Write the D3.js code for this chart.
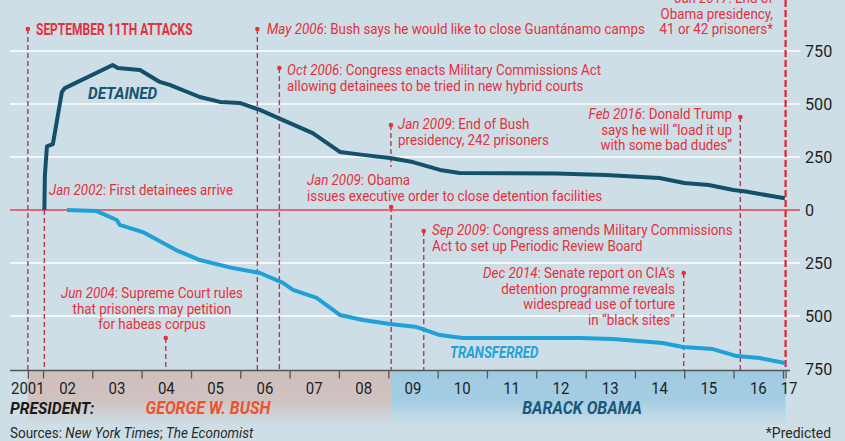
<!DOCTYPE html>
<html>
<head>
<meta charset="utf-8">
<script src="https://cdn.jsdelivr.net/npm/d3@7"></script>
<style>
  body { margin: 0; background: #cedee6; }
  svg { display: block; }
  text { font-family: "Roboto", "Open Sans", sans-serif; }
</style>
</head>
<body>
<div class="chart"></div>
<script>
// prisoners held at Guantánamo
var detainedDates = ['2002-01-11','2002-01-15','2002-01-30','2002-03-15','2002-05-21','2002-06-12',
  '2003-06-01','2003-07-08','2003-12-20','2004-05-15','2004-07-27','2005-03-07','2005-08-03',
  '2005-12-28','2006-05-26','2006-10-23','2007-06-21','2008-01-08','2008-06-27','2009-01-12',
  '2009-07-01','2010-01-18','2010-06-13','2012-06-01','2013-06-01','2014-07-01','2015-01-01',
  '2015-07-01','2016-01-01','2016-04-01','2017-01-15'];
var detainedValues = [0,165,300,311,557,575,
  684,670,660,604,590,533,510,
  505,472,430,363,274,260,245,
  226,189,175,172,165,151,127,
  118,94,87,55];

// prisoners transferred out
var transferredDates = ['2002-06-27','2003-02-03','2003-07-01','2003-07-23','2004-01-10','2004-09-12',
  '2005-03-07','2005-11-06','2006-05-26','2006-11-13','2007-01-26','2007-07-20','2008-01-08',
  '2008-06-27','2009-01-12','2009-07-30','2010-01-18','2010-07-05','2012-11-20','2013-07-20',
  '2014-07-25','2014-12-20','2015-07-31','2016-01-25','2016-07-12','2017-01-15'];
var transferredValues = [0,5,47,70,104,189,
  236,274,297,344,377,415,495,
  519,538,552,590,604,604,608,
  627,646,656,689,698,722];

var yTicks = [0, 250, 500, 750];
var yearTicks = ['2002','2003','2004','2005','2006','2007','2008','2009','2010','2011','2012','2013','2014','2015','2016','2017'];
var yearLabels = ['2001','02','03','04','05','06','07','08','09','10','11','12','13','14','15','16','17'];
var yearLabelDates = ['2001-09-11','2002-07-02','2003-07-02','2004-07-02','2005-07-02','2006-07-02','2007-07-02',
  '2008-07-02','2009-07-02','2010-07-02','2011-07-02','2012-07-02','2013-07-02','2014-07-02','2015-07-02',
  '2016-07-02','2017-02-15'];
var presidents = ['GEORGE W. BUSH', 'BARACK OBAMA'];
var presidentTerms = [['2001-09-11','2009-01-20'], ['2009-01-20','2017-01-20']];

var events = [
  { date: '2001-09-11', head: 'SEPTEMBER 11TH ATTACKS', lines: [] },
  { date: '2002-01-11', head: 'Jan 2002', lines: [': First detainees arrive'] },
  { date: '2004-06-28', head: 'Jun 2004', lines: [': Supreme Court rules', 'that prisoners may petition', 'for habeas corpus'] },
  { date: '2006-05-07', head: 'May 2006', lines: [': Bush says he would like to close Guantánamo camps'] },
  { date: '2006-10-17', head: 'Oct 2006', lines: [': Congress enacts Military Commissions Act', 'allowing detainees to be tried in new hybrid courts'] },
  { date: '2009-01-20', head: 'Jan 2009', lines: [': End of Bush', 'presidency, 242 prisoners'] },
  { date: '2009-01-22', head: 'Jan 2009', lines: [': Obama', 'issues executive order to close detention facilities'] },
  { date: '2009-09-20', head: 'Sep 2009', lines: [': Congress amends Military Commissions', 'Act to set up Periodic Review Board'] },
  { date: '2014-12-28', head: 'Dec 2014', lines: [': Senate report on CIA’s', 'detention programme reveals', 'widespread use of torture', 'in “black sites”'] },
  { date: '2016-02-20', head: 'Feb 2016', lines: [': Donald Trump', 'says he will “load it up', 'with some bad dudes”'] },
  { date: '2017-01-20', head: 'Jan 2017', lines: [': End of', 'Obama presidency,', '41 or 42 prisoners*'] }
];

// layout of each event: line top/bottom, dot, text anchor point
var eventLayout = [
  { y0: 29, y1: 370, dot: true, tx: 36, ty: 35, anchor: 'start', bold: true },
  { y0: 210, y1: 370, dot: false, tx: 49, ty: 195, anchor: 'start' },
  { y0: 338, y1: 370, dot: true, tx: 152, ty: 298, anchor: 'middle' },
  { y0: 29, y1: 370, dot: true, tx: 267, ty: 34, anchor: 'start' },
  { y0: 68, y1: 370, dot: true, tx: 287, ty: 75, anchor: 'start' },
  { y0: 125, y1: 167, dot: true, tx: 398, ty: 129, anchor: 'start' },
  { y0: 207, y1: 370, dot: true, tx: 307, ty: 185, anchor: 'start' },
  { y0: 231, y1: 370, dot: true, tx: 432, ty: 235, anchor: 'start' },
  { y0: 273, y1: 370, dot: true, tx: 675, ty: 278, anchor: 'end' },
  { y0: 117, y1: 370, dot: true, tx: 732, ty: 119, anchor: 'end' },
  { y0: 0, y1: 370, dot: false, tx: 773, ty: 3, anchor: 'end', bright: true }
];

var width = 845, height = 441;
var red = '#e5303c';
var parse = d3.timeParse('%Y-%m-%d');

var svg = d3.select('.chart')
  .append('svg')
    .attr('width', width)
    .attr('height', height);

svg.append('rect')
  .attr('width', width)
  .attr('height', height)
  .attr('fill', '#cedee6');

// text squeezed horizontally, the house font is narrower than Roboto
function label(px, py, size, sx, anchor) {
  return svg.append('text')
    .attr('transform', `translate(${px}, ${py}) scale(${sx}, 1)`)
    .attr('text-anchor', anchor || 'start')
    .attr('font-size', size);
}

var x = d3.scaleTime()
  .domain([new Date(2002, 0, 1), new Date(2017, 0, 1)])
  .range([43, 783]);
var yUp = d3.scaleLinear().domain([0, 750]).range([210, 51]);
var yDown = d3.scaleLinear().domain([0, 750]).range([210, 369]);

// president bands
var defs = svg.append('defs');
var bandColors = ['#cfbfbd', '#9fcbe2'];
bandColors.forEach(function(c, i) {
  var g = defs.append('linearGradient')
    .attr('id', 'band' + i)
    .attr('x1', 0).attr('y1', 0).attr('x2', 0).attr('y2', 1);
  g.append('stop').attr('offset', '0%').attr('stop-color', c).attr('stop-opacity', 1);
  g.append('stop').attr('offset', '55%').attr('stop-color', c).attr('stop-opacity', 0.9);
  g.append('stop').attr('offset', '100%').attr('stop-color', c).attr('stop-opacity', 0);
});

svg.selectAll('rect.band')
  .data(presidentTerms)
  .enter()
  .append('rect')
    .attr('class', 'band')
    .attr('x', d => x(parse(d[0])))
    .attr('width', d => x(parse(d[1])) - x(parse(d[0])))
    .attr('y', 371)
    .attr('height', 54)
    .attr('fill', (d, i) => 'url(#band' + i + ')');

// gridlines + right labels
var grid = svg.append('g');
yTicks.filter(v => v > 0).forEach(function(v) {
  [yUp, yDown].forEach(function(s) {
    if (s === yDown && v === 750) return;
    grid.append('line')
      .attr('x1', 10).attr('x2', 800)
      .attr('y1', s(v)).attr('y2', s(v))
      .attr('stroke', '#ffffff')
      .attr('stroke-width', 1.6);
  });
});
yTicks.forEach(function(v) {
  var ys = v === 0 ? [yUp(0)] : [yUp(v), yDown(v)];
  ys.forEach(function(yy) {
    label(805, yy, 17, 0.95)
      .attr('dy', '0.36em')
      .attr('fill', '#1e1e1e')
      .text(v);
  });
});

// x axis
var xAxis = d3.axisBottom(x)
  .tickValues(yearTicks.map(d => parse(d + '-01-01')).concat([parse('2001-09-11'), parse('2017-01-20')]))
  .tickSize(8)
  .tickFormat('');
var gx = svg.append('g')
  .attr('transform', 'translate(0, 370.5)')
  .call(xAxis);
gx.select('.domain').remove();
gx.selectAll('.tick line').attr('stroke', '#555').attr('stroke-width', 1.3);
svg.append('line')
  .attr('x1', 10).attr('x2', 790)
  .attr('y1', 370.5).attr('y2', 370.5)
  .attr('stroke', '#555')
  .attr('stroke-width', 1.5);

yearLabels.forEach(function(d, i) {
  label(x(parse(yearLabelDates[i])), 394, 17, 0.88, 'middle')
    .attr('fill', '#1e1e1e')
    .text(d);
});

// event lines
var ev = svg.append('g');
events.forEach(function(e, i) {
  var L = eventLayout[i];
  var ex = x(parse(e.date));
  ev.append('line')
    .attr('x1', ex).attr('x2', ex)
    .attr('y1', L.y0).attr('y2', L.y1)
    .attr('stroke', L.bright ? '#e8202e' : '#b03a4e')
    .attr('stroke-width', L.bright ? 2.2 : 1.4)
    .attr('stroke-dasharray', L.bright ? '7,3' : '5,3');
  if (L.dot) {
    ev.append('circle')
      .attr('cx', ex).attr('cy', L.y0)
      .attr('r', 2.3)
      .attr('fill', red);
  }
});

// zero line
svg.append('line')
  .attr('x1', 10).attr('x2', 800)
  .attr('y1', yUp(0)).attr('y2', yUp(0))
  .attr('stroke', '#e4424c')
  .attr('stroke-width', 1.3);

// series
var lineUp = d3.line()
  .x((d, i) => x(parse(d)))
  .y((d, i) => yUp(detainedValues[i]));
var lineDown = d3.line()
  .x((d, i) => x(parse(d)))
  .y((d, i) => yDown(transferredValues[i]));

svg.append('path')
  .attr('d', lineDown(transferredDates))
  .attr('fill', 'none')
  .attr('stroke', '#1fa0d8')
  .attr('stroke-width', 4)
  .attr('stroke-linejoin', 'round');
svg.append('path')
  .attr('d', lineUp(detainedDates))
  .attr('fill', 'none')
  .attr('stroke', '#15506b')
  .attr('stroke-width', 4)
  .attr('stroke-linejoin', 'round');

label(88, 99, 17, 0.9)
  .attr('font-weight', 'bold').attr('font-style', 'italic')
  .attr('fill', '#17546f')
  .text('DETAINED');
label(450, 358, 16, 0.83)
  .attr('font-weight', 'bold').attr('font-style', 'italic')
  .attr('fill', '#22a2da')
  .text('TRANSFERRED');

// event texts
events.forEach(function(e, i) {
  var L = eventLayout[i];
  if (L.bold) {
    label(L.tx, L.ty, 16, 0.75, L.anchor)
      .attr('font-weight', 'bold')
      .attr('fill', red)
      .text(e.head);
    return;
  }
  var t = label(L.tx, L.ty, 15, 0.89, L.anchor).attr('fill', red);
  t.append('tspan').attr('font-style', 'italic').text(e.head);
  t.append('tspan').text(e.lines[0]);
  e.lines.slice(1).forEach(function(l, k) {
    label(L.tx, L.ty + (k + 1) * 15.5, 15, 0.89, L.anchor)
      .attr('fill', red)
      .text(l);
  });
});

// president row
label(10, 414, 17, 0.92)
  .attr('font-weight', 'bold').attr('font-style', 'italic')
  .attr('fill', '#1a1a1a')
  .text('PRESIDENT:');
var presColors = ['#f0512f', '#19587a'];
var presCenters = [208, 582];
presidents.forEach(function(p, i) {
  label(presCenters[i], 414, 18, 0.89, 'middle')
    .attr('font-weight', 'bold').attr('font-style', 'italic')
    .attr('fill', presColors[i])
    .text(p);
});

// footer
var src = label(10, 438, 15, 0.9).attr('fill', '#2a2a2a');
src.append('tspan').text('Sources: ');
src.append('tspan').attr('font-style', 'italic').text('New York Times');
src.append('tspan').text('; ');
src.append('tspan').attr('font-style', 'italic').text('The Economist');
label(831, 438, 15, 0.93, 'end')
  .attr('fill', '#2a2a2a')
  .text('*Predicted');
</script>
</body>
</html>
